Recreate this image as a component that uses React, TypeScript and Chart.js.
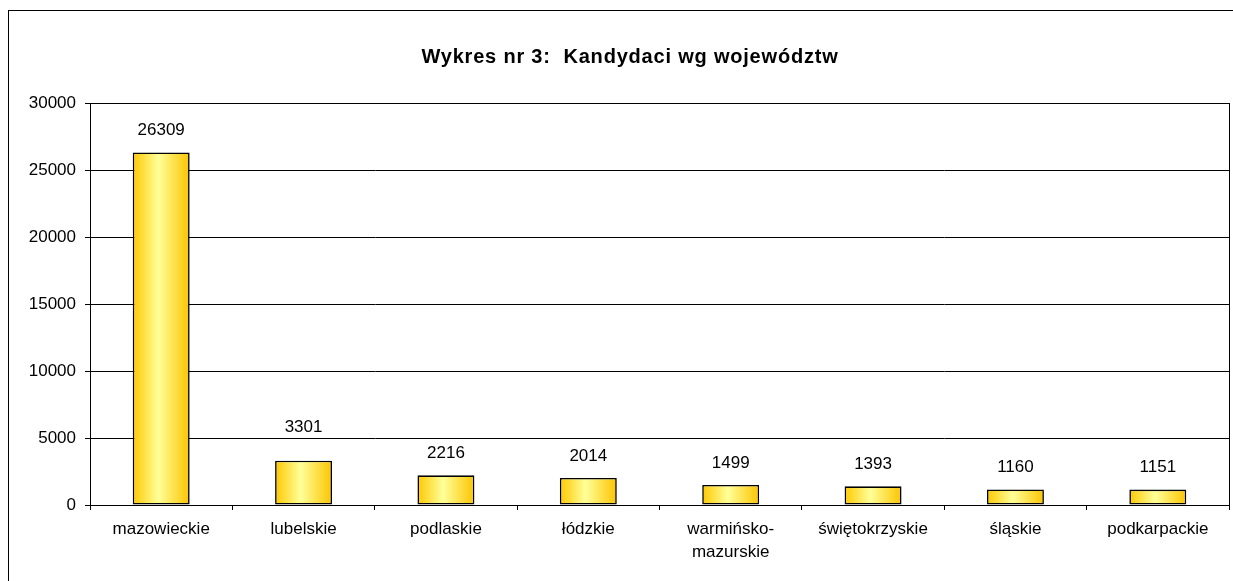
import React, { useEffect, useRef } from 'react';
import { Chart, registerables } from 'chart.js';

Chart.register(...registerables);

const categories: (string | string[])[] = [
  'mazowieckie',
  'lubelskie',
  'podlaskie',
  'łódzkie',
  ['warmińsko-', 'mazurskie'],
  'świętokrzyskie',
  'śląskie',
  'podkarpackie',
];
const values: number[] = [26309, 3301, 2216, 2014, 1499, 1393, 1160, 1151];
const yMin = 0;
const yMax = 30000;
const yStep = 5000;
const titleText = 'Wykres nr 3:  Kandydaci wg województw';

const FONT = 'Arial, "Liberation Sans", sans-serif';
const BAR_PCT = 0.4;

const framePlugin = {
  id: 'frame',
  beforeDatasetsDraw(chart: any) {
    const { ctx, chartArea } = chart;
    ctx.save();
    ctx.strokeStyle = '#000';
    ctx.lineWidth = 1;
    ctx.strokeRect(
      Math.round(chartArea.left) + 0.5,
      Math.round(chartArea.top) + 0.5,
      Math.round(chartArea.right - chartArea.left),
      Math.round(chartArea.bottom - chartArea.top)
    );
    ctx.restore();
  },
  afterDraw(chart: any) {
    const { ctx } = chart;
    ctx.save();
    // outer chart frame
    ctx.strokeStyle = '#000';
    ctx.lineWidth = 1;
    ctx.strokeRect(8.5, 10.5, 1400, 800);
    // title
    ctx.fillStyle = '#000';
    ctx.font = `bold 20px ${FONT}`;
    ctx.textAlign = 'center';
    ctx.textBaseline = 'middle';
    try {
      (ctx as any).letterSpacing = '0.8px';
    } catch (e) {}
    ctx.fillText(titleText, 630, 57);
    try {
      (ctx as any).letterSpacing = '0px';
    } catch (e) {}
    ctx.restore();
  },
};

const valueLabelPlugin = {
  id: 'valueLabels',
  afterDatasetsDraw(chart: any) {
    const { ctx } = chart;
    const meta = chart.getDatasetMeta(0);
    const yScale = chart.scales.y;
    const gridPixels = yScale.ticks.map((t: any) => yScale.getPixelForValue(t.value));
    ctx.save();
    ctx.fillStyle = '#000';
    ctx.font = `17px ${FONT}`;
    ctx.textAlign = 'center';
    ctx.textBaseline = 'middle';
    meta.data.forEach((bar: any, i: number) => {
      let y = bar.y - 22;
      const half = 8;
      for (const gp of gridPixels) {
        if (Math.abs(gp - y) < half) {
          y = gp - 11;
        }
      }
      ctx.fillText(String(values[i]), bar.x, y);
    });
    ctx.restore();
  },
};

export default function App() {
  const canvasRef = useRef<HTMLCanvasElement | null>(null);

  useEffect(() => {
    const canvas = canvasRef.current;
    if (!canvas) return;

    const barGradient = (c: any) => {
      const chart = c.chart;
      const { chartArea, scales } = chart;
      if (!chartArea || !scales || !scales.x || c.type !== 'data') return '#FFCC00';
      const xs = scales.x;
      const cx = xs.getPixelForValue(c.dataIndex);
      const w = (xs.width / categories.length) * BAR_PCT;
      const g = chart.ctx.createLinearGradient(cx - w / 2, 0, cx + w / 2, 0);
      g.addColorStop(0, '#FFC800');
      g.addColorStop(0.45, '#FFFF99');
      g.addColorStop(1, '#FCC400');
      return g;
    };

    const chart = new Chart(canvas, {
      type: 'bar',
      data: {
        labels: categories as any,
        datasets: [
          {
            data: values,
            backgroundColor: barGradient as any,
            borderColor: '#000',
            borderWidth: 1.6,
            borderSkipped: false,
            barPercentage: BAR_PCT,
            categoryPercentage: 1,
          },
        ],
      },
      options: {
        animation: false,
        responsive: false,
        devicePixelRatio: 1,
        layout: { padding: { left: 22, right: 4, top: 103, bottom: 0 } },
        plugins: {
          legend: { display: false },
          title: { display: false },
          tooltip: { enabled: false },
        },
        scales: {
          x: {
            offset: true,
            grid: {
              display: true,
              offset: true,
              drawOnChartArea: false,
              drawTicks: true,
              tickLength: 5,
              color: '#000',
            },
            border: { color: '#000', width: 1 },
            ticks: {
              color: '#000',
              font: { family: FONT, size: 17, lineHeight: 1.35 },
              padding: 8,
              maxRotation: 0,
              autoSkip: false,
            },
            afterFit(scale: any) {
              scale.height = 76;
            },
          },
          y: {
            min: yMin,
            max: yMax,
            grid: {
              color: '#000',
              lineWidth: 1,
              drawTicks: true,
              tickLength: 5,
            },
            border: { color: '#000', width: 1 },
            ticks: {
              stepSize: yStep,
              color: '#000',
              font: { family: FONT, size: 17 },
              padding: 9,
              callback: (v: any) => String(v),
            },
            afterFit(scale: any) {
              scale.width = 68;
            },
          },
        },
      },
      plugins: [framePlugin, valueLabelPlugin],
    } as any);

    return () => chart.destroy();
  }, []);

  return (
    <div
      style={{
        position: 'fixed',
        left: 0,
        top: 0,
        width: 1233,
        height: 581,
        background: '#fff',
      }}
    >
      <canvas ref={canvasRef} width={1233} height={581} style={{ display: 'block' }} />
    </div>
  );
}
